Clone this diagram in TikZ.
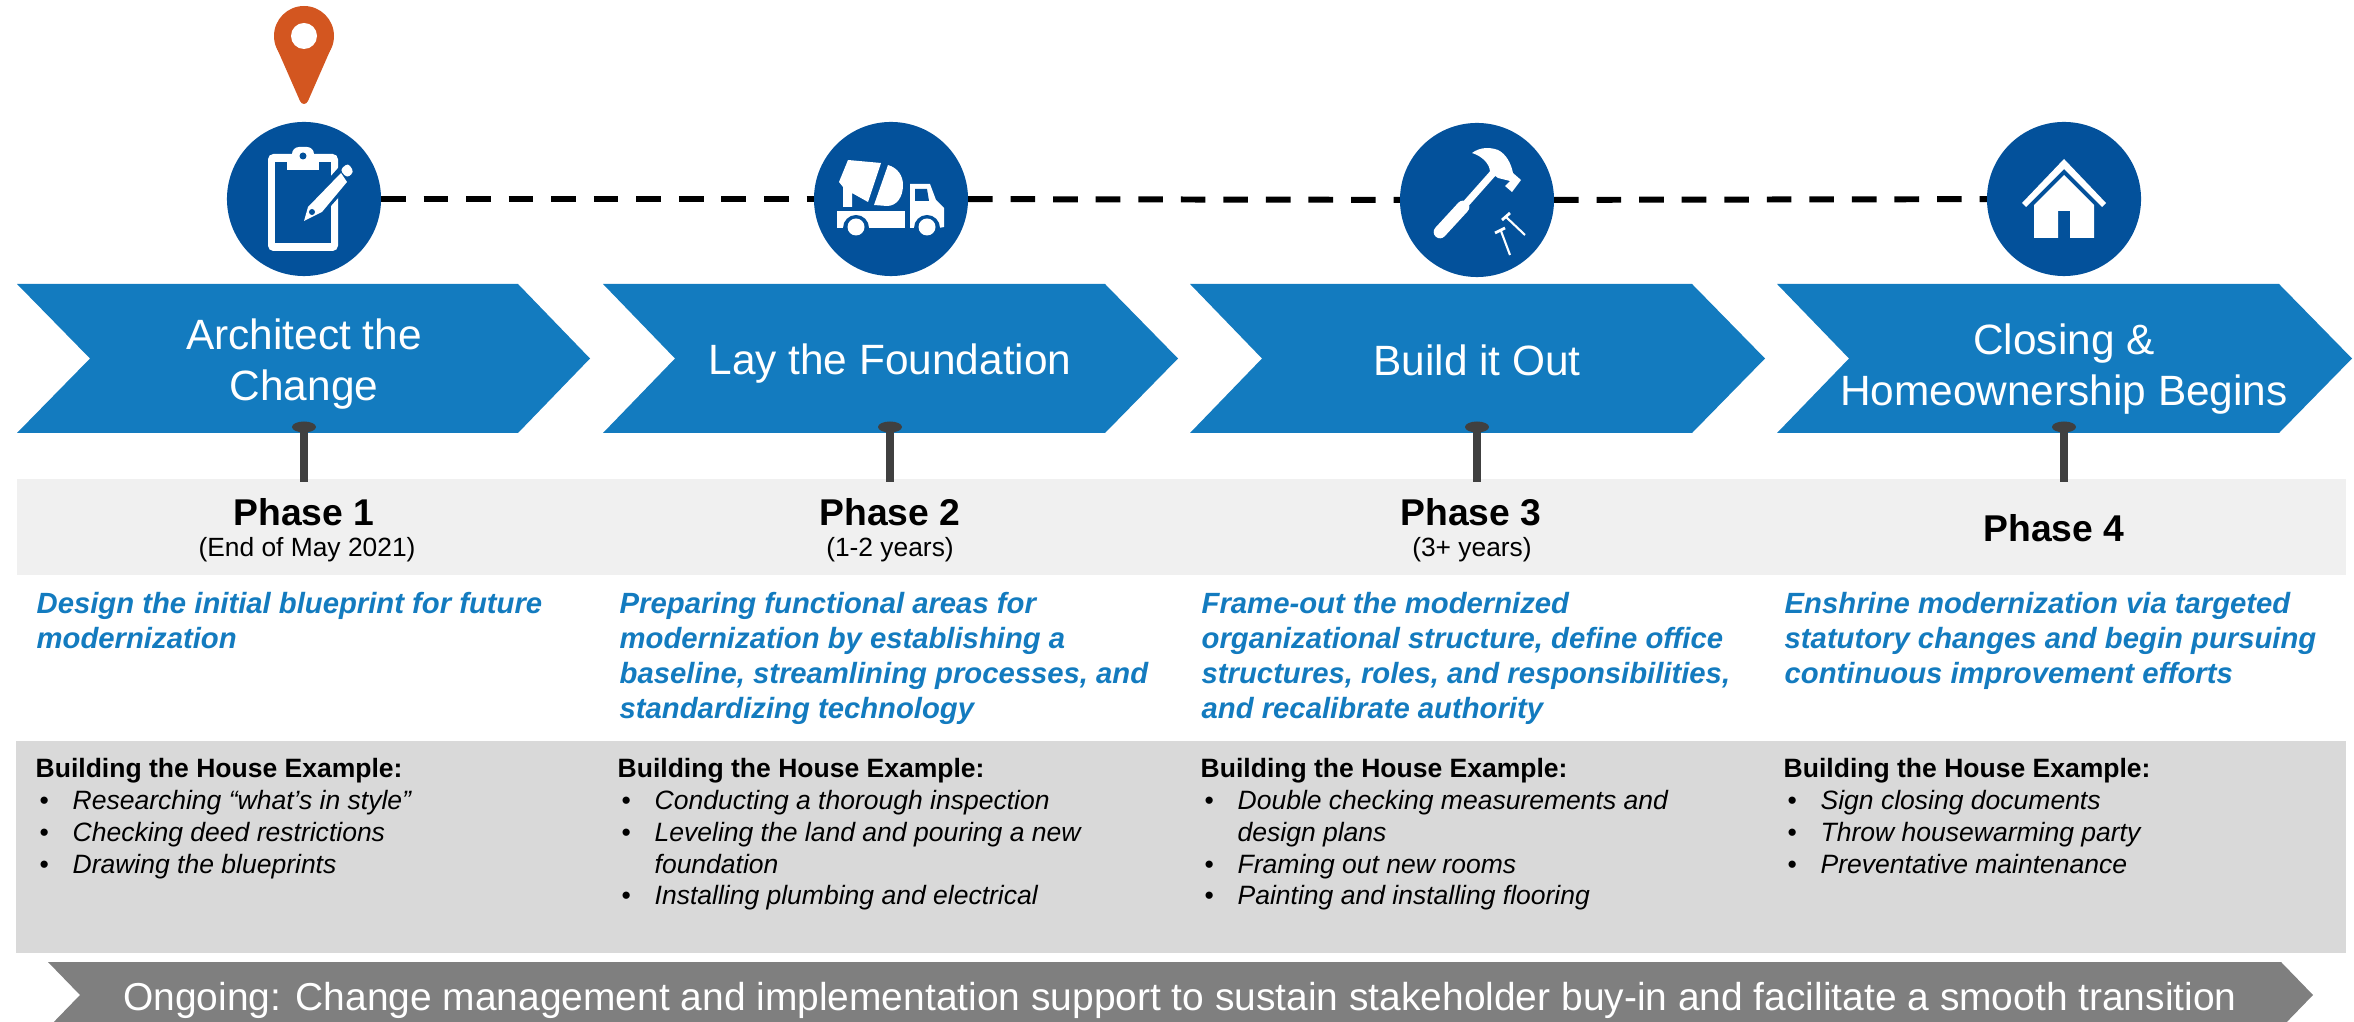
\documentclass[tikz,border=0pt]{standalone}
\usepackage{fontspec}
\setmainfont{Liberation Sans}
\definecolor{chevblue}{HTML}{137BBF}
\definecolor{darkblue}{HTML}{03519B}
\definecolor{pinorange}{HTML}{D35620}
\definecolor{stemgray}{HTML}{404040}
\definecolor{bandgray}{HTML}{F0F0F0}
\definecolor{boxgray}{HTML}{D9D9D9}
\definecolor{ongoinggray}{HTML}{7F7F7F}
\newcommand{\bitem}[1]{\hspace*{1.1pt}\makebox[9.4pt][l]{\textbullet}\textit{#1}}
\newcommand{\bcont}[1]{\hspace*{10.5pt}\textit{#1}}
\tikzset{
  chevron/.style={fill=chevblue},
  chevtext/.style={text=white,align=center,font=\fontsize{12.05}{14.7}\selectfont},
  phasecircle/.style={circle,fill=darkblue,minimum size=1.54cm,inner sep=0pt,outer sep=0pt},
  timeline/.style={black,line width=1.7pt,dash pattern=on 7pt off 5.1pt},
  stem/.style={stemgray,line width=2.2pt},
  stemcap/.style={ellipse,fill=stemgray,minimum width=0.24cm,minimum height=0.11cm,inner sep=0pt},
  phasehead/.style={font=\fontsize{10.6}{12}\selectfont\bfseries},
  phasesub/.style={font=\fontsize{7.5}{9}\selectfont},
  goalnote/.style={anchor=north west,inner sep=0pt,align=left,text=chevblue,font=\fontsize{8.32}{10}\selectfont\bfseries\itshape},
  examplenote/.style={anchor=north west,inner sep=0pt,align=left,font=\fontsize{7.54}{9.07}\selectfont},
  icon/.style={fill=white,draw=none}
}
\usetikzlibrary{shapes.geometric}
\begin{document}
\begin{tikzpicture}[x=0.01cm,y=-0.01cm]
\useasboundingbox (0,0) rectangle (2354,1022);

\fill[bandgray] (17,479) rectangle (2346,575);
\fill[boxgray] (16,741) rectangle (2346,953);

\fill[chevron] (17,284) -- (518,284) -- (590,358.5) -- (518,433) -- (17,433) -- (90,358.5) -- cycle;
\fill[chevron] (603,284) -- (1105,284) -- (1178,358.5) -- (1105,433) -- (603,433) -- (675,358.5) -- cycle;
\fill[chevron] (1190,284) -- (1692,284) -- (1765,358.5) -- (1692,433) -- (1190,433) -- (1262,358.5) -- cycle;
\fill[chevron] (1777,284) -- (2279,284) -- (2352,358.5) -- (2279,433) -- (1777,433) -- (1849,358.5) -- cycle;

\node[chevtext] (chev1) at (304,364) {Architect the\\Change};
\node[chevtext] (chev2) at (890,364) {Lay the Foundation};
\node[chevtext] (chev3) at (1477,360) {Build it Out};
\node[chevtext] (chev4) at (2064,369) {Closing \&\\Homeownership Begins};

\node[phasecircle] (circ1) at (304,199) {};
\node[phasecircle] (circ2) at (891,199) {};
\node[phasecircle] (circ3) at (1477,200) {};
\node[phasecircle] (circ4) at (2064,199) {};
\draw[timeline] (circ1) -- (circ2);
\draw[timeline] (circ2) -- (circ3);
\draw[timeline] (circ3) -- (circ4);

\fill[pinorange] (304,36) circle[radius=30];
\fill[pinorange] (277,48.5) -- (300,101) .. controls (302,105) and (306,105) .. (308,101) -- (331,48.5) -- cycle;
\fill[white] (304,36) circle[radius=13];

\fill[icon,rounded corners=1.5pt] (268,154) rectangle (338,251);
\fill[darkblue] (275,162) rectangle (331,243);
\fill[icon,rounded corners=2pt] (292,147) rectangle (314,165);
\fill[icon] (287,162) rectangle (319,170);
\fill[darkblue] (303,156) circle[radius=3.5];
\fill[darkblue] (303,226) -- (306,204) -- (339,167) -- (354,180) -- (322,216) -- cycle;
\fill[icon] (304,221) -- (308,207) -- (341,173) -- (347,182) -- (322,212) -- cycle;
\fill[darkblue] (312,212) circle[radius=3];
\fill[icon,rounded corners=1pt] (340,170) -- (348,163) -- (354,172) -- (347,178) -- cycle;

\fill[icon] (848,160) -- (881,163) -- (868,202) -- (852,193) -- (852,207) -- (843,207) -- (843,187) -- (839,182) -- cycle;
\fill[icon] (888,165) .. controls (898,168) and (903,176) .. (903,185) .. controls (903,198) and (896,206) .. (887,206) -- (874,205) -- cycle;
\fill[icon] (837,211) rectangle (905,228);
\fill[icon] (910,184) -- (930,184) -- (936,200) -- (944,208) -- (944,227) -- (939,228) -- (910,228) -- cycle;
\fill[darkblue] (915,189) -- (927,189) -- (929,201) -- (915,201) -- cycle;
\fill[darkblue] (856,228) circle[radius=13];
\fill[darkblue] (927,228) circle[radius=13];
\fill[darkblue] (840,228) rectangle (872,240);
\fill[darkblue] (911,228) rectangle (943,240);
\fill[icon] (856,227) circle[radius=8.5];
\fill[icon] (927,227) circle[radius=8.5];

\draw[white,line width=3.6pt,line cap=round] (1440,232) -- (1463,207);
\draw[white,line width=2pt] (1463,207) -- (1495,171);
\fill[icon] (1472,153) .. controls (1480,147) and (1490,147) .. (1498,150) .. controls (1506,154) and (1511,163) .. (1513,173) -- (1521,180) -- (1512,192) -- (1505,186) -- (1510,181) -- (1498,178) -- (1490,172) .. controls (1490,164) and (1482,156) .. cycle;
\draw[white,line width=0.8pt] (1502,220) -- (1510,213);
\draw[white,line width=0.8pt] (1495,233) -- (1505,228);
\draw[white,line width=0.6pt] (1506,217) -- (1525,235);
\draw[white,line width=0.6pt] (1501,231) -- (1510,255);

\fill[icon] (2064,159) -- (2106,203) -- (2102,207) -- (2064,169) -- (2026,207) -- (2022,203) -- cycle;
\fill[icon] (2064,175) -- (2094,205) -- (2094,238) -- (2070,238) -- (2070,211) -- (2058,211) -- (2058,238) -- (2034,238) -- (2034,205) -- cycle;

\coordinate (stem1a) at (304,427);
\coordinate (stem1b) at (304,482);
\coordinate (stem2a) at (890,427);
\coordinate (stem2b) at (890,482);
\coordinate (stem3a) at (1477,427);
\coordinate (stem3b) at (1477,482);
\coordinate (stem4a) at (2064,427);
\coordinate (stem4b) at (2064,482);
\draw[stem] (stem1a) -- (stem1b);
\draw[stem] (stem2a) -- (stem2b);
\draw[stem] (stem3a) -- (stem3b);
\draw[stem] (stem4a) -- (stem4b);
\node[stemcap] (cap1) at (stem1a) {};
\node[stemcap] (cap2) at (stem2a) {};
\node[stemcap] (cap3) at (stem3a) {};
\node[stemcap] (cap4) at (stem4a) {};

\node[phasehead] (head1) at (304,512) {Phase 1};
\node[phasesub] (sub1) at (307,550) {(End of May 2021)};
\node[phasehead] (head2) at (890,512) {Phase 2};
\node[phasesub] (sub2) at (890,550) {(1-2 years)};
\node[phasehead] (head3) at (1471,512) {Phase 3};
\node[phasesub] (sub3) at (1472,550) {(3+ years)};
\node[phasehead] (head4) at (2054,528) {Phase 4};

\node[goalnote] (goal1) at (36,591.5) {Design the initial blueprint for future\\modernization};
\node[goalnote] (goal2) at (619,591.5) {Preparing functional areas for\\modernization by establishing a\\baseline, streamlining processes, and\\standardizing technology};
\node[goalnote] (goal3) at (1201,591.5) {Frame-out the modernized\\organizational structure, define office\\structures, roles, and responsibilities,\\and recalibrate authority};
\node[goalnote] (goal4) at (1784,591.5) {Enshrine modernization via targeted\\statutory changes and begin pursuing\\continuous improvement efforts};

\node[examplenote] (ex1) at (35,757.5) {\textbf{Building the House Example:}\\\bitem{Researching “what’s in style”}\\\bitem{Checking deed restrictions}\\\bitem{Drawing the blueprints}};
\node[examplenote] (ex2) at (617,757.5) {\textbf{Building the House Example:}\\\bitem{Conducting a thorough inspection}\\\bitem{Leveling the land and pouring a new}\\\bcont{foundation}\\\bitem{Installing plumbing and electrical}};
\node[examplenote] (ex3) at (1200,757.5) {\textbf{Building the House Example:}\\\bitem{Double checking measurements and}\\\bcont{design plans}\\\bitem{Framing out new rooms}\\\bitem{Painting and installing flooring}};
\node[examplenote] (ex4) at (1783,757.5) {\textbf{Building the House Example:}\\\bitem{Sign closing documents}\\\bitem{Throw housewarming party}\\\bitem{Preventative maintenance}};

\fill[ongoinggray] (48,962) -- (2281,962) -- (2313,995) -- (2281,1028) -- (48,1028) -- (80,995) -- cycle;
\node[text=white,font=\fontsize{11.07}{13}\selectfont] (ongoing) at (1180,1000) {Ongoing: Change management and implementation support to sustain stakeholder buy-in and facilitate a smooth transition};
\end{tikzpicture}
\end{document}
